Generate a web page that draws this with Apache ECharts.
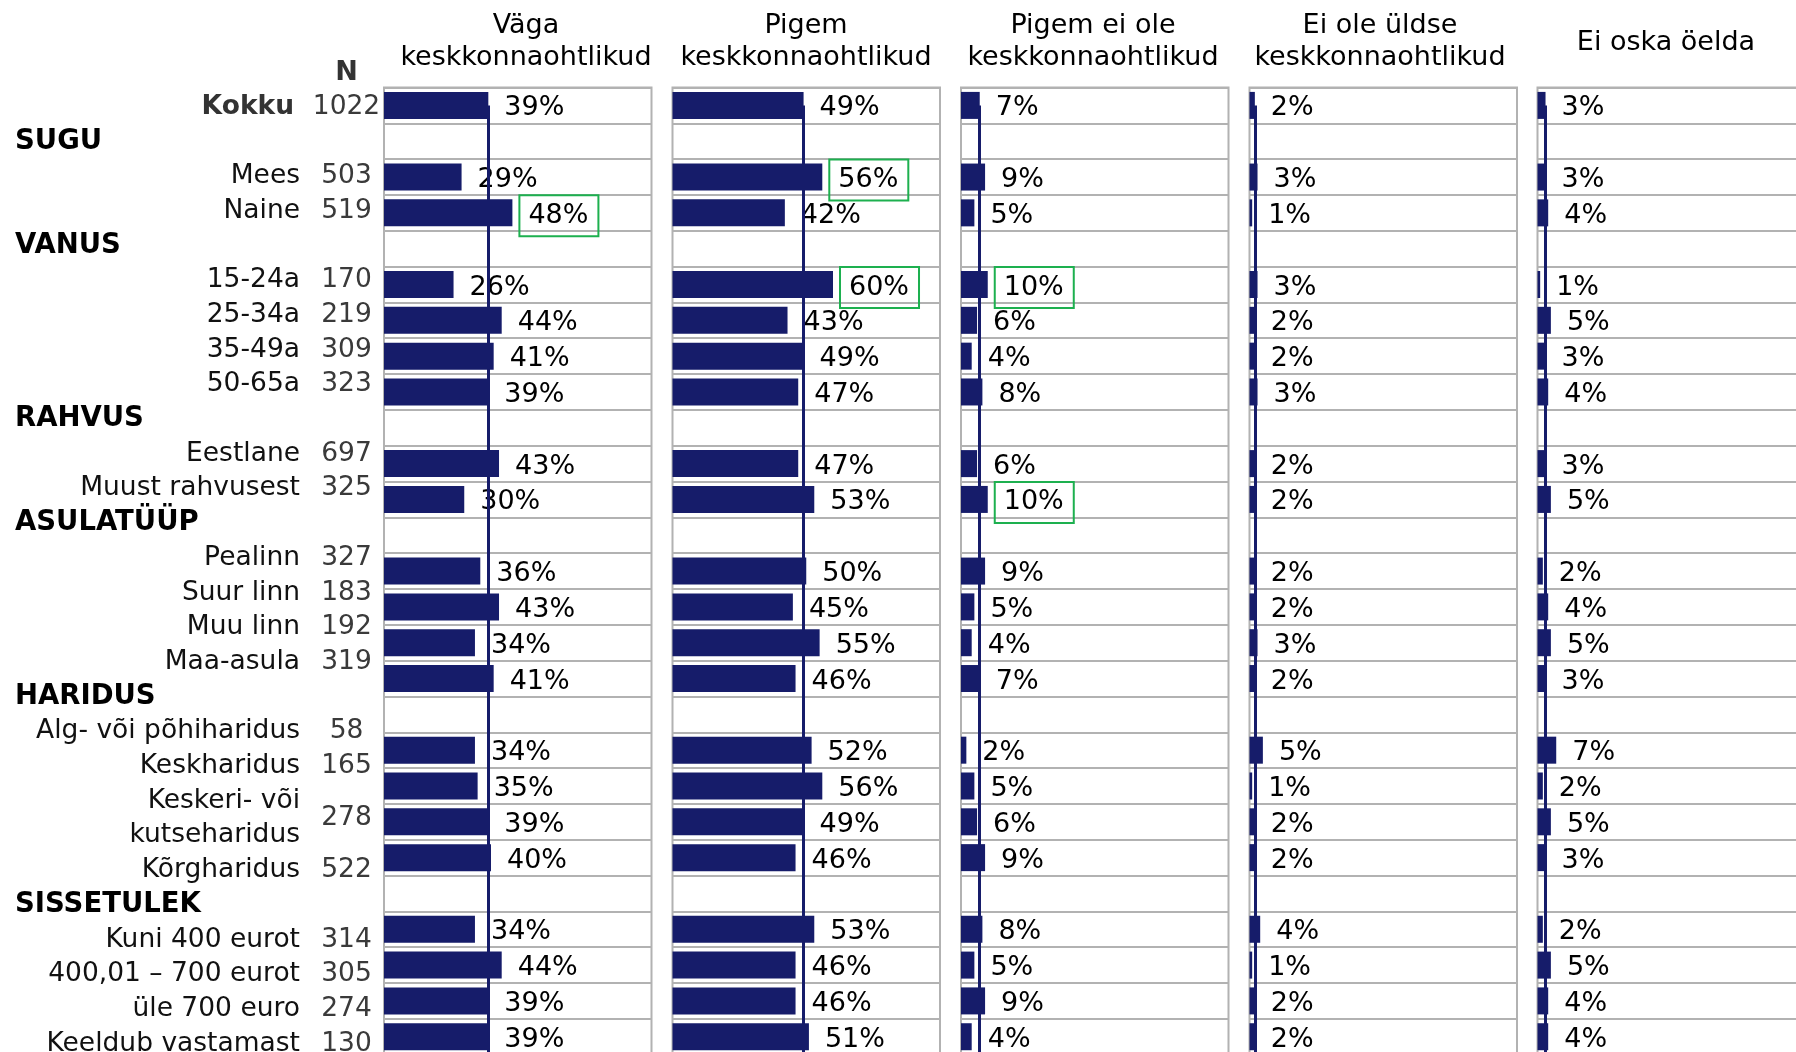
<!DOCTYPE html>
<html>
<head>
<meta charset="utf-8">
<script src="https://cdn.jsdelivr.net/npm/echarts@6/dist/echarts.min.js"></script>
<style>
  html, body { margin: 0; padding: 0; background: #fff; }
  #chart { width: 1796px; height: 1052px; }
</style>
</head>
<body>
<div id="chart"></div>
<script>
// rows of the table (header rows have no N and no values)
var rowNames = ['Kokku', 'SUGU', 'Mees', 'Naine', 'VANUS', '15-24a', '25-34a', '35-49a', '50-65a',
  'RAHVUS', 'Eestlane', 'Muust rahvusest', 'ASULATÜÜP', 'Pealinn', 'Suur linn', 'Muu linn', 'Maa-asula',
  'HARIDUS', 'Alg- või põhiharidus', 'Keskharidus', 'Keskeri- või\nkutseharidus', 'Kõrgharidus',
  'SISSETULEK', 'Kuni 400 eurot', '400,01 – 700 eurot', 'üle 700 euro', 'Keeldub vastamast'];
var headerRows = [1, 4, 9, 12, 17, 22];
var nCounts = [1022, null, 503, 519, null, 170, 219, 309, 323, null, 697, 325, null, 327, 183, 192, 319,
  null, 58, 165, 278, 522, null, 314, 305, 274, 130];

var columnTitles = ['Väga\nkeskkonnaohtlikud', 'Pigem\nkeskkonnaohtlikud', 'Pigem ei ole\nkeskkonnaohtlikud',
  'Ei ole üldse\nkeskkonnaohtlikud', 'Ei oska öelda'];

var vagaKesk = [39, null, 29, 48, null, 26, 44, 41, 39, null, 43, 30, null, 36, 43, 34, 41, null, 34, 35, 39, 40, null, 34, 44, 39, 39];
var pigemKesk = [49, null, 56, 42, null, 60, 43, 49, 47, null, 47, 53, null, 50, 45, 55, 46, null, 52, 56, 49, 46, null, 53, 46, 46, 51];
var pigemEiOle = [7, null, 9, 5, null, 10, 6, 4, 8, null, 6, 10, null, 9, 5, 4, 7, null, 2, 5, 6, 9, null, 8, 5, 9, 4];
var eiOleUldse = [2, null, 3, 1, null, 3, 2, 2, 3, null, 2, 2, null, 2, 2, 3, 2, null, 5, 1, 2, 2, null, 4, 1, 2, 2];
var eiOska = [3, null, 3, 4, null, 1, 5, 3, 4, null, 3, 5, null, 2, 4, 5, 3, null, 7, 2, 5, 3, null, 2, 5, 4, 4];
var columns = [vagaKesk, pigemKesk, pigemEiOle, eiOleUldse, eiOska];

// [column, row] of the labels with a green frame
var highlighted = [[0, 3], [1, 2], [1, 5], [2, 5], [2, 11]];

var NAVY = '#161c6a';
var GREY = '#b2b2b2';
var FONT = 'DejaVu Sans';

var panelLefts = [384, 672.5, 961, 1249.5, 1537.5];
var panelWidth = 267.5;
var titleCenters = [526, 806, 1093, 1380, 1666];
var rowH = 35.82;
var gridTop = 87.5;

// bar rows + one empty row below so the line runs off the bottom
var rowCats = rowNames.map(function (n, i) { return 'r' + i; }).concat(['end']);

// left table: one slot per text line
var slotNames = [], slotHeaders = [], slotN = [];
rowNames.forEach(function (name, i) {
  if (headerRows.indexOf(i) >= 0) {
    slotNames.push(''); slotHeaders.push(name); slotN.push('');
    return;
  }
  var lines = name.split('\n');
  lines.forEach(function (ln, j) {
    slotNames.push(i === 0 ? '{kokku|' + ln + '}' : ln);
    slotHeaders.push('');
    if (j === 0) slotN.push(lines.length > 1 ? '{down|' + nCounts[i] + '}' : String(nCounts[i]));
    else slotN.push('');
  });
});
var slotH = 34.7;
var slotCats = slotNames.map(function (n, i) { return 's' + i; });

var grids = [], xAxes = [], yAxes = [], series = [], titles = [];

columns.forEach(function (vals, c) {
  grids.push({
    left: panelLefts[c], top: gridTop, width: panelWidth, height: rowCats.length * rowH,
    outerBoundsMode: 'none', containLabel: false,
    show: true, borderColor: GREY, borderWidth: 2
  });
  xAxes.push({ gridIndex: c, type: 'value', min: 0, max: 100, show: false });
  yAxes.push({
    gridIndex: c, type: 'category', data: rowCats, inverse: true, position: 'left',
    axisLine: { show: false, onZero: false }, axisTick: { show: false }, axisLabel: { show: false },
    splitLine: { show: true, lineStyle: { color: GREY, width: 2 } }
  });
  series.push({
    type: 'bar',
    xAxisIndex: c,
    yAxisIndex: c,
    barWidth: 27,
    itemStyle: { color: NAVY },
    data: vals.map(function (v, r) {
      if (v === null) return '-';
      var hl = highlighted.some(function (h) { return h[0] === c && h[1] === r; });
      return hl ? { value: v, label: { borderColor: '#1db04f', borderWidth: 2 } } : v;
    }),
    label: {
      show: true, position: 'right', distance: 7, offset: [0, 3],
      formatter: '{c}%',
      color: '#000', fontFamily: FONT, fontSize: 27, lineHeight: 31,
      padding: [5, 10, 5, 9]
    },
    markLine: {
      silent: true, symbol: 'none',
      label: { show: false },
      lineStyle: { color: NAVY, width: 3, type: 'solid' },
      data: [[{ coord: [vals[0], 0] }, { coord: [vals[0], rowCats.length - 1] }]]
    }
  });
  titles.push({
    text: columnTitles[c],
    left: titleCenters[c], textAlign: 'center',
    top: columnTitles[c].indexOf('\n') >= 0 ? 10 : 27,
    padding: 0,
    textStyle: { fontFamily: FONT, fontSize: 27, fontWeight: 'normal', color: '#000', lineHeight: 32 }
  });
});

// grid for the left label table
var lg = columns.length;
grids.push({
  left: panelLefts[0], top: gridTop + 2, width: 1, height: slotCats.length * slotH,
  outerBoundsMode: 'none', containLabel: false, show: false
});
xAxes.push({ gridIndex: lg, type: 'value', min: 0, max: 1, show: false });
var labelAxisBase = {
  gridIndex: lg, type: 'category', data: slotCats, inverse: true, position: 'left',
  axisLine: { show: false, onZero: false }, axisTick: { show: false }, splitLine: { show: false }
};
yAxes.push(Object.assign({}, labelAxisBase, {
  axisLabel: {
    interval: 0, margin: 84, color: '#111', fontFamily: FONT, fontSize: 26.5,
    formatter: function (v, i) { return slotNames[i]; },
    rich: { kokku: { fontFamily: FONT, fontSize: 26.5, fontWeight: 'bold', color: '#333', padding: [0, 6, 0, 0] } }
  }
}));
yAxes.push(Object.assign({}, labelAxisBase, {
  axisLabel: {
    interval: 0, margin: 37.5, align: 'center', color: '#3a3a3a', fontFamily: FONT, fontSize: 26.5,
    formatter: function (v, i) { return slotN[i]; },
    rich: { down: { fontFamily: FONT, fontSize: 26.5, color: '#3a3a3a', padding: [slotH, 0, 0, 0] } }
  }
}));
yAxes.push(Object.assign({}, labelAxisBase, {
  axisLabel: {
    interval: 0, margin: 369, align: 'left', color: '#000', fontFamily: FONT, fontSize: 27.5, fontWeight: 'bold',
    formatter: function (v, i) { return slotHeaders[i]; }
  }
}));

titles.push({
  text: 'N', left: 346.5, textAlign: 'center', top: 57, padding: 0,
  textStyle: { fontFamily: FONT, fontSize: 27, fontWeight: 'bold', color: '#333', lineHeight: 32 }
});

var chart = echarts.init(document.getElementById('chart'), null, { renderer: 'canvas' });
chart.setOption({
  animation: false,
  backgroundColor: '#fff',
  title: titles,
  grid: grids,
  xAxis: xAxes,
  yAxis: yAxes,
  series: series
});
</script>
</body>
</html>
